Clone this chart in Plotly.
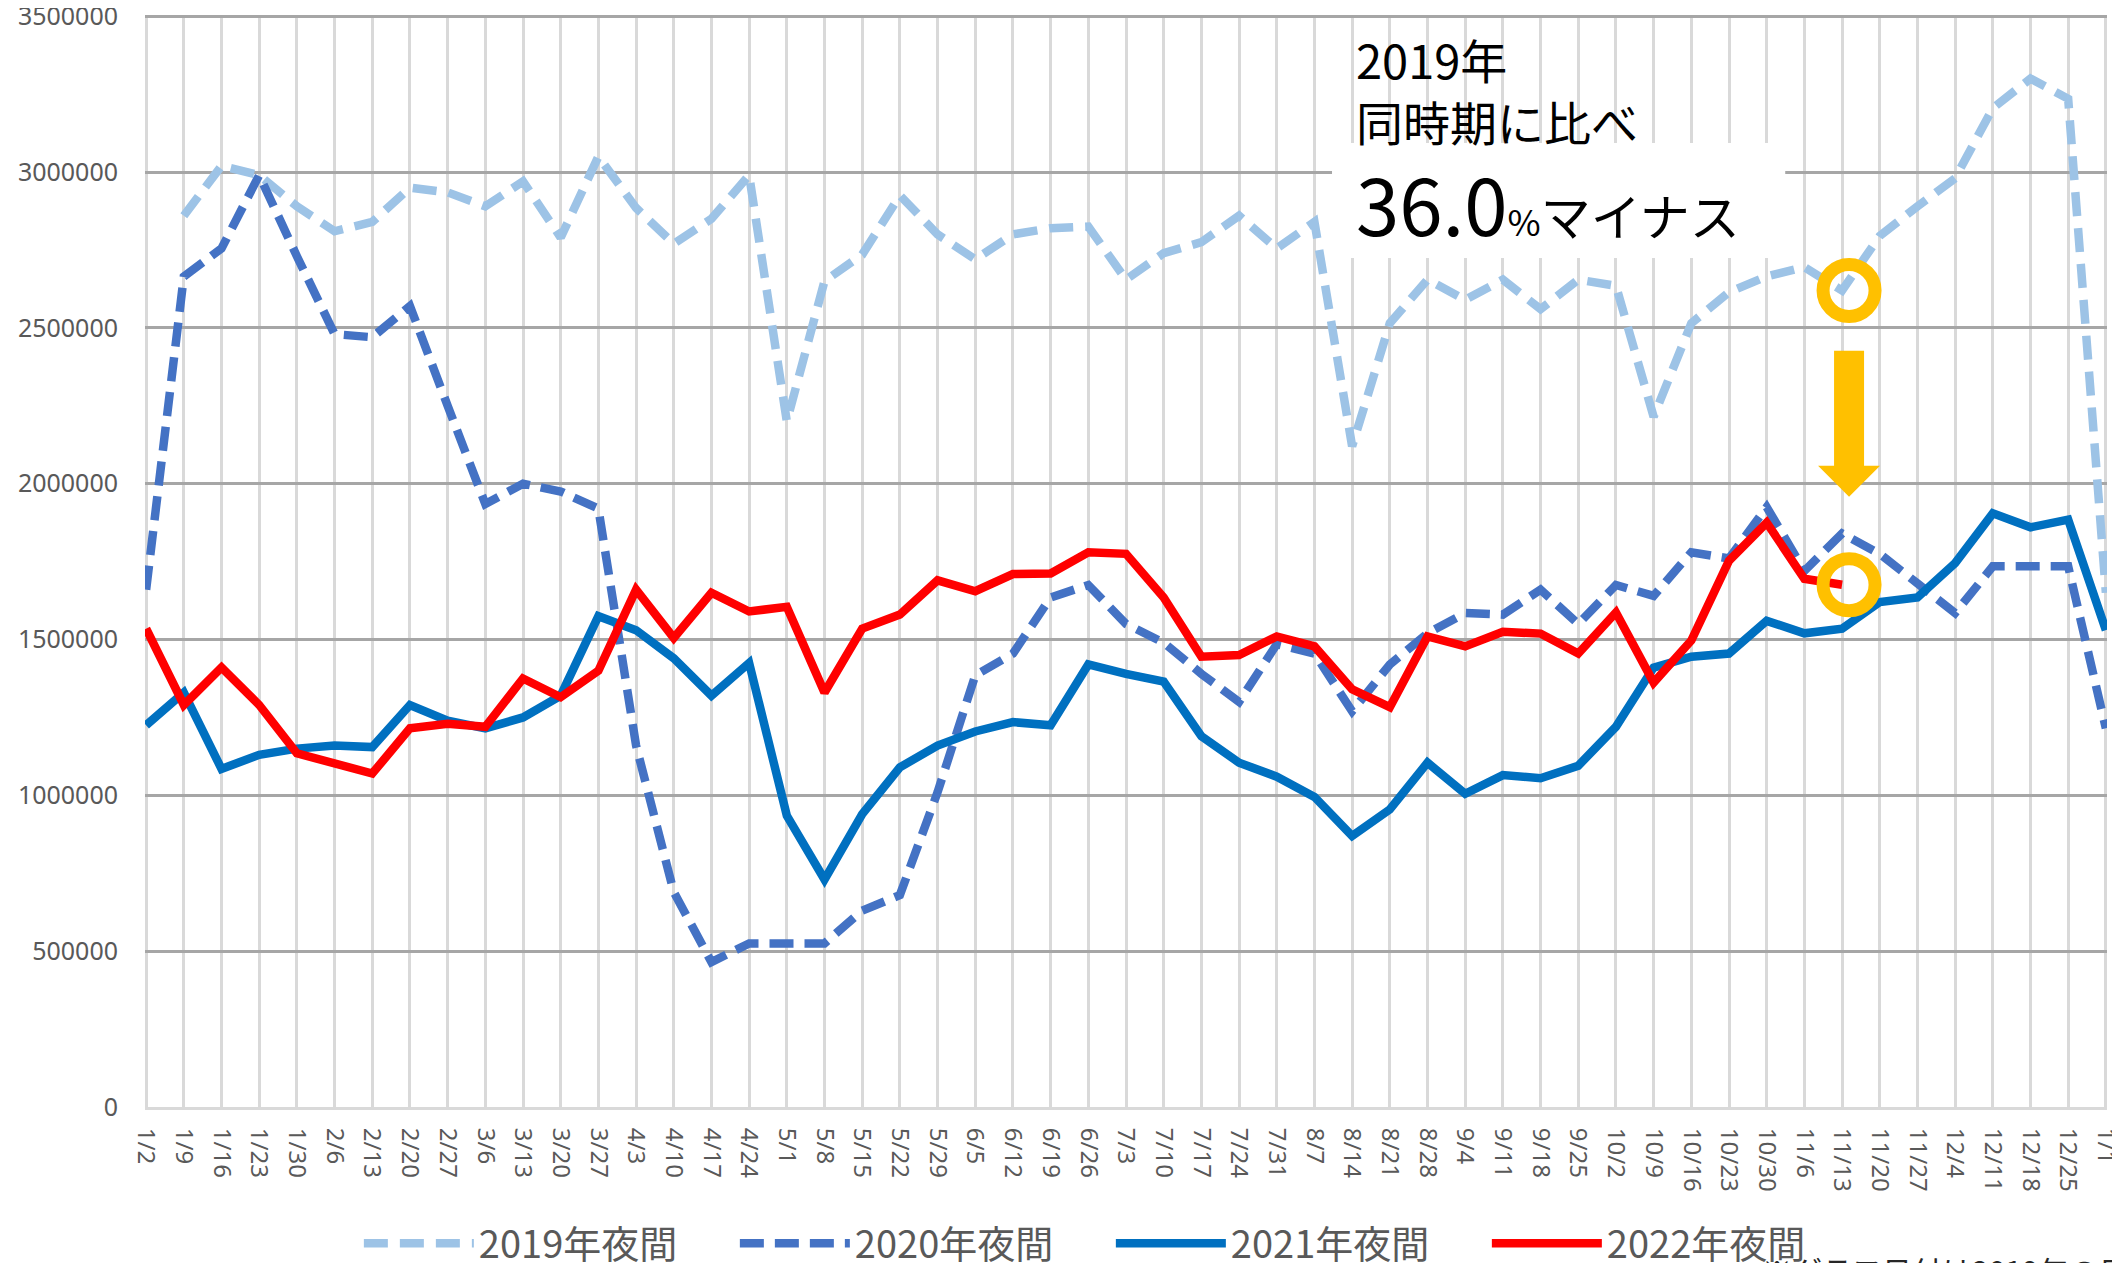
import plotly.graph_objects as go

categories = ["1/2", "1/9", "1/16", "1/23", "1/30", "2/6", "2/13", "2/20", "2/27", "3/6",
              "3/13", "3/20", "3/27", "4/3", "4/10", "4/17", "4/24", "5/1", "5/8", "5/15",
              "5/22", "5/29", "6/5", "6/12", "6/19", "6/26", "7/3", "7/10", "7/17", "7/24",
              "7/31", "8/7", "8/14", "8/21", "8/28", "9/4", "9/11", "9/18", "9/25", "10/2",
              "10/9", "10/16", "10/23", "10/30", "11/6", "11/13", "11/20", "11/27", "12/4",
              "12/11", "12/18", "12/25", "1/1"]

night_2019 = [None, 2860000, 3020000, 2990000, 2890000, 2810000, 2840000, 2950000, 2935000, 2890000,
              2970000, 2790000, 3050000, 2885000, 2770000, 2850000, 2990000, 2200000, 2650000, 2735000,
              2925000, 2800000, 2720000, 2800000, 2820000, 2825000, 2655000, 2740000, 2775000, 2860000,
              2755000, 2840000, 2120000, 2515000, 2655000, 2590000, 2655000, 2560000, 2655000, 2635000,
              2215000, 2515000, 2615000, 2665000, 2695000, 2620000, 2795000, 2890000, 2980000,
              3205000, 3300000, 3235000, 1650000]

night_2020 = [1660000, 2665000, 2755000, 2990000, 2730000, 2480000, 2470000, 2570000, 2250000, 1935000,
              2000000, 1975000, 1920000, 1160000, 690000, 465000, 525000, 525000, 525000, 630000,
              680000, 1010000, 1385000, 1455000, 1635000, 1675000, 1550000, 1490000, 1390000, 1300000,
              1485000, 1455000, 1270000, 1420000, 1520000, 1585000, 1580000, 1660000, 1550000, 1675000,
              1640000, 1780000, 1760000, 1925000, 1720000, 1840000, 1775000, 1680000, 1585000,
              1735000, 1735000, 1735000, 1215000]

night_2021 = [1225000, 1330000, 1085000, 1130000, 1150000, 1160000, 1155000, 1290000, 1240000, 1215000,
              1250000, 1320000, 1575000, 1530000, 1440000, 1320000, 1425000, 935000, 730000, 940000,
              1090000, 1160000, 1205000, 1235000, 1225000, 1420000, 1390000, 1365000, 1190000, 1105000,
              1060000, 995000, 870000, 955000, 1105000, 1005000, 1065000, 1055000, 1095000, 1220000,
              1410000, 1445000, 1455000, 1560000, 1520000, 1535000, 1620000, 1635000, 1745000,
              1905000, 1860000, 1885000, 1530000]

night_2022 = [1535000, 1290000, 1410000, 1290000, 1135000, 1105000, 1070000, 1215000, 1230000, 1220000,
              1375000, 1315000, 1400000, 1660000, 1505000, 1650000, 1590000, 1605000, 1330000, 1535000,
              1580000, 1690000, 1655000, 1710000, 1712000, 1780000, 1775000, 1635000, 1445000, 1450000,
              1510000, 1478000, 1340000, 1283000, 1510000, 1478000, 1525000, 1519000, 1455000, 1587000,
              1362000, 1497000, 1753000, 1875000, 1695000, 1676000]

series_names = ["2019年夜間", "2020年夜間", "2021年夜間", "2022年夜間"]
y_ticks = [0, 500000, 1000000, 1500000, 2000000, 2500000, 3000000, 3500000]

# highlighted comparison point (11/13): 2019 vs 2022
highlight_cat = "11/13"
highlight_2019 = night_2019[categories.index(highlight_cat)]
highlight_2022 = night_2022[categories.index(highlight_cat)]
callout_pct = "36.0"

FONT = "Noto Sans CJK JP, Noto Sans, sans-serif"
ORANGE = "#FFC000"

fig = go.Figure()
styles = [
    dict(color="#9DC3E6", width=8.5, dash="24px,12px"),
    dict(color="#4472C4", width=8.5, dash="24px,11px"),
    dict(color="#0070C0", width=8.5),
    dict(color="#FF0000", width=8.5),
]
for name, vals, st in zip(series_names, [night_2019, night_2020, night_2021, night_2022], styles):
    fig.add_trace(go.Scatter(x=categories, y=vals, mode="lines", name=name, line=st,
                             connectgaps=False, hoverinfo="skip"))

fig.update_layout(
    width=2112, height=1255,
    margin=dict(l=137, r=13, t=7, b=156, autoexpand=False),
    paper_bgcolor="white", plot_bgcolor="white",
    font=dict(family=FONT, color="#595959"),
    showlegend=True,
    legend=dict(orientation="h", x=0.109, xanchor="left", y=-0.125, yanchor="middle",
                font=dict(size=38, color="#595959", family=FONT),
                itemwidth=110, entrywidth=251, entrywidthmode="pixels",
                bgcolor="rgba(0,0,0,0)", traceorder="normal"),
)
fig.update_xaxes(type="category", categoryorder="array", categoryarray=categories,
                 range=[-0.03, len(categories) - 1 + 0.03], showgrid=True, gridcolor="#D9D9D9",
                 gridwidth=3, tickangle=90, ticks="", ticklabelstandoff=13,
                 tickfont=dict(size=24, color="#595959", family="Noto Sans"),
                 showline=True, linecolor="#D9D9D9", linewidth=3, zeroline=False)
fig.update_yaxes(range=[0, 3504000], tickvals=y_ticks, ticktext=[str(v) for v in y_ticks],
                 showgrid=True, gridcolor="#A6A6A6", gridwidth=3, zeroline=False,
                 ticks="", ticklabelstandoff=26, ticklabeloverflow="allow",
                 tickfont=dict(size=25, color="#595959", family="Noto Sans"),
                 showline=False)

# white text box behind the callout
fig.add_shape(type="rect", xref="paper", yref="paper", x0=0.605, x1=0.836, y0=0.7775, y1=0.8828,
              fillcolor="white", line=dict(width=0), layer="above")

# callout text
fig.add_annotation(xref="paper", yref="paper", x=0.6160, y=0.960, xanchor="left", yanchor="middle",
                   text="2019年", showarrow=False, font=dict(size=47, color="black", family=FONT))
fig.add_annotation(xref="paper", yref="paper", x=0.6160, y=0.903, xanchor="left", yanchor="middle",
                   text="同時期に比べ", showarrow=False, font=dict(size=47, color="black", family=FONT))
fig.add_annotation(xref="paper", yref="paper", x=0.6160, y=0.829, xanchor="left", yanchor="middle",
                   text=f"{callout_pct}<span style='font-size:36px'>%</span><span style='font-size:50px'>マイナス</span>",
                   showarrow=False, font=dict(size=78, color="black", family=FONT))

# circles on the compared points
for val in [highlight_2019, highlight_2022]:
    fig.add_shape(type="circle", xref="x", yref="y", xsizemode="pixel", ysizemode="pixel",
                  xanchor=highlight_cat, yanchor=val, x0=-19, x1=33, y0=-26, y1=26,
                  line=dict(color=ORANGE, width=13), fillcolor="rgba(0,0,0,0)", layer="above")

# downward arrow
fig.add_shape(type="path", xref="x", yref="y", xsizemode="pixel", ysizemode="pixel",
              xanchor=highlight_cat, yanchor=2000000,
              path="M -8,133 L 22,133 L 22,18 L 38,18 L 7,-13 L -24,18 L -8,18 Z",
              fillcolor=ORANGE, line=dict(width=0), layer="above")

# footnote (partially cut off at the bottom edge)
fig.add_annotation(xref="paper", yref="paper", x=(1760 - 145) / 1962, y=-0.127, xanchor="left",
                   yanchor="top", text="※グラフ日付は2019年の日付", showarrow=False,
                   font=dict(size=30, color="#262626", family=FONT))

fig.write_html("out.html")
